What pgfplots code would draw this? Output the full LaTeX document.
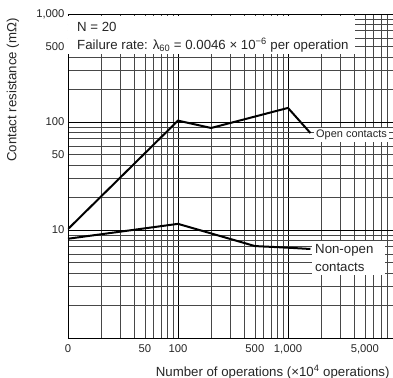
\documentclass[border=0pt]{standalone}
\usepackage{pgfplots}
\pgfplotsset{compat=1.18}
\usepackage{fontspec}
\setmainfont{Liberation Sans}
\begin{document}
\begin{tikzpicture}[x=1bp,y=1bp]
\useasboundingbox (-68,-40) rectangle (325,338);
\begin{axis}[
  at={(0,0)}, anchor=south west,
  scale only axis, width=330bp, height=324bp,
  xmode=log, ymode=log,
  xmin=10, xmax=10000, ymin=1, ymax=1000,
  xtick={10,100,1000,10000}, xticklabels={0,100,{1,000},},
  extra x ticks={50,500,5000}, extra x tick labels={50,500,{5,000}},
  extra x tick style={grid=none},
  ytick={1,10,100,1000}, yticklabels={,10,100,{1,000}},
  extra y ticks={50,500}, extra y tick labels={50,500},
  extra y tick style={grid=none},
  minor xtick={20,30,40,50,60,70,80,90,200,300,400,500,600,700,800,900,2000,3000,4000,5000,6000,7000,8000,9000},
  minor ytick={2,3,4,5,6,7,8,9,20,30,40,50,60,70,80,90,200,300,400,500,600,700,800,900},
  grid=both,
  major grid style={black, line width=0.85bp},
  minor grid style={black!72, line width=0.7bp},
  major tick length=0pt, minor tick length=0pt,
  tick label style={font=\fontsize{11.3}{13}\selectfont, text=black!85},
  xticklabel style={yshift=-3bp},
  axis line style={black, line width=0.9bp},
  xlabel={Number of operations (×10\textsuperscript{4} operations)},
  ylabel={Contact resistance (mΩ)},
  label style={font=\fontsize{13.3}{15}\selectfont, text=black!85},
  xlabel style={at={(axis description cs:0.9848,-0.105)}, anchor=east},
  ylabel style={at={(axis description cs:-0.1667,0.997)}, anchor=east},
]
\addplot[black, line width=2bp] coordinates {(10,10.2) (100,103) (200,88) (1000,135) (1600,79)};
\addplot[black, line width=2bp] coordinates {(10,8.3) (100,11.4) (500,7.1) (1000,6.86) (1600,6.67)};
\end{axis}
\fill[white] (0.5,284) rectangle (287,322);
\node[anchor=west, font=\fontsize{13.3}{15}\selectfont, text=black!85, inner sep=0pt] at (9,311) {N = 20};
\node[anchor=west, font=\fontsize{13.3}{15}\selectfont, text=black!85, inner sep=0pt] at (9,293) {Failure rate: λ\textsubscript{60} = 0.0046 × 10\textsuperscript{−6} per operation};
\node[anchor=west, fill=white, font=\fontsize{11}{13}\selectfont, text=black!85, inner sep=2pt] at (246,203) {Open contacts};
\node[anchor=west, fill=white, font=\fontsize{13.3}{18}\selectfont, text=black!85, inner xsep=3pt, inner ysep=3pt, text width=67bp, align=left] at (244,80) {Non-open\\contacts};
\end{tikzpicture}
\end{document}
